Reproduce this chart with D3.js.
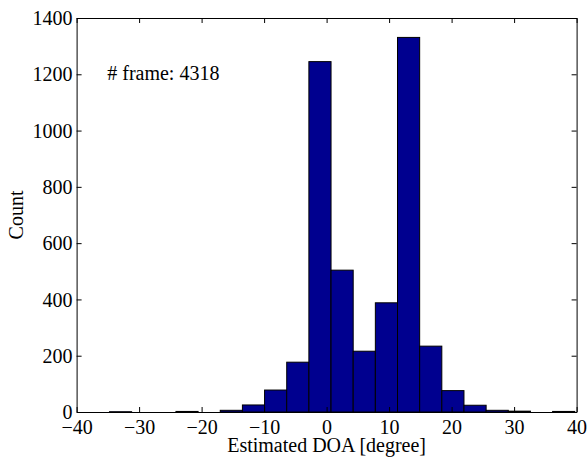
<!DOCTYPE html>
<html>
<head>
<meta charset="utf-8">
<script src="https://cdn.jsdelivr.net/npm/d3@7"></script>
<style>
  body { margin: 0; background: #fff; }
  svg text { font-family: "Liberation Serif", "Times New Roman", serif; fill: #000; }
</style>
</head>
<body>
<div id="chart"></div>
<script>
'use strict';

// histogram bins: first edge and width (degrees), counts per bin
const binStart = -34.74;
const binWidth = 3.545;
const counts = [1, 0, 0, 2, 0, 6, 25, 78, 177, 1245, 504, 216, 388, 1331, 234, 76, 24, 6, 3, 0, 2];

const xTicks = [-40, -30, -20, -10, 0, 10, 20, 30, 40];
const yTicks = [0, 200, 400, 600, 800, 1000, 1200, 1400];
const frameLabel = '# frame: 4318';

const width = 588, height = 457;
const margin = {top: 18, right: 11.4, bottom: 45, left: 76.6};
const w = width - margin.left - margin.right;
const h = height - margin.top - margin.bottom;
const fontSize = 20;
const serif = '"Liberation Serif", "Times New Roman", serif';

const svg = d3.select('#chart').append('svg')
    .attr('width', width)
    .attr('height', height);

const g = svg.append('g')
    .attr('transform', 'translate(' + margin.left + ',' + margin.top + ')');

const x = d3.scaleLinear().domain([-40, 40]).range([0, w]);
const y = d3.scaleLinear().domain([0, 1400]).range([h, 0]);

const bins = counts.map((c, i) => ({x0: binStart + i * binWidth, x1: binStart + (i + 1) * binWidth, count: c}));

g.selectAll('rect.bar')
    .data(bins)
    .enter().append('rect')
    .attr('class', 'bar')
    .attr('x', d => x(d.x0))
    .attr('width', d => x(d.x1) - x(d.x0))
    .attr('y', d => y(d.count))
    .attr('height', d => y(0) - y(d.count))
    .attr('fill', '#00008f')
    .attr('stroke', '#000')
    .attr('stroke-width', 1);

const fmtX = d => d < 0 ? '\u2212' + Math.abs(d) : String(d);
const fmtY = d => String(d);

// bottom and left axes, inward ticks
const xAxis = d3.axisBottom(x).tickValues(xTicks).tickSizeInner(-5).tickSizeOuter(0).tickFormat(fmtX);
const yAxis = d3.axisLeft(y).tickValues(yTicks).tickSizeInner(-5).tickSizeOuter(0).tickFormat(fmtY);

const gx = g.append('g')
    .attr('transform', 'translate(0,' + h + ')')
    .call(xAxis)
    .attr('font-family', serif)
    .attr('font-size', fontSize);
gx.selectAll('text').attr('dy', null).attr('y', 22);

const gy = g.append('g')
    .call(yAxis)
    .attr('font-family', serif)
    .attr('font-size', fontSize);
gy.selectAll('text').attr('dy', '0.33em').attr('x', -4);

// top and right axes (box), ticks only
g.append('g').call(d3.axisTop(x).tickValues(xTicks).tickSizeInner(-5).tickSizeOuter(0).tickFormat(''));
g.append('g').attr('transform', 'translate(' + w + ',0)')
    .call(d3.axisRight(y).tickValues(yTicks).tickSizeInner(-5).tickSizeOuter(0).tickFormat(''));

svg.selectAll('.domain').attr('stroke', '#000');
svg.selectAll('.tick line').attr('stroke', '#000');

g.append('text')
    .attr('x', x(-35.1))
    .attr('y', y(1180))
    .attr('font-size', fontSize)
    .text(frameLabel);

svg.append('text')
    .attr('x', margin.left + w / 2)
    .attr('y', 452)
    .attr('text-anchor', 'middle')
    .attr('font-size', fontSize)
    .text('Estimated DOA [degree]');

svg.append('text')
    .attr('transform', 'translate(23,' + (margin.top + h / 2) + ') rotate(-90)')
    .attr('text-anchor', 'middle')
    .attr('font-size', fontSize)
    .text('Count');
</script>
</body>
</html>
